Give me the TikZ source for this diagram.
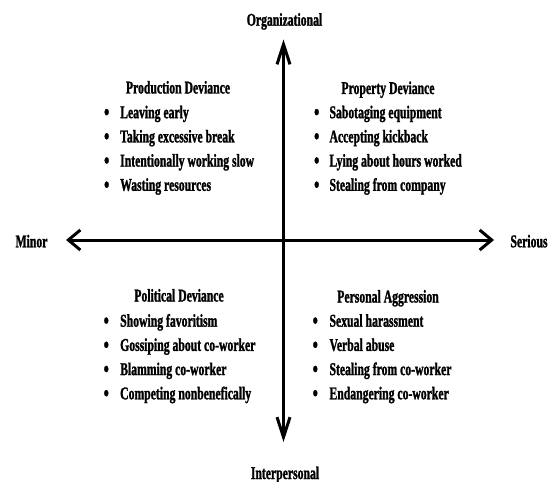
\documentclass[tikz,border=0pt]{standalone}
\usepackage{fontspec}
\setmainfont{Liberation Serif}[FakeStretch=0.65, BoldFeatures={FakeBold=1.3}]
\usetikzlibrary{arrows.meta}
\begin{document}
\begin{tikzpicture}[x=1bp,y=-1bp,
  font=\fontsize{18bp}{20bp}\selectfont\bfseries,
  lbl/.style={inner sep=0pt, anchor=base},
  itemtext/.style={inner sep=0pt, anchor=base west},
  bul/.style={inner sep=0pt, anchor=base, font=\fontsize{23bp}{24bp}\selectfont\bfseries},
  haxis/.style={line width=3bp, {Straight Barb[length=12bp,width=20bp]}-{Straight Barb[length=12bp,width=20bp]}},
  vaxis/.style={line width=3bp, {Straight Barb[length=20bp,width=13bp]}-{Straight Barb[length=20bp,width=13bp]}}]
\useasboundingbox[fill=white] (0,0) rectangle (560,482);
% axes
\coordinate (T) at (283.5,39.5);
\coordinate (B) at (283.5,442);
\coordinate (L) at (66,240);
\coordinate (R) at (494,240);
\draw[haxis] (L) -- (R);
\draw[vaxis] (B) -- (T);
% axis labels
\node[lbl] (org) at (284.5,25.7) {Organizational};
\node[lbl] (inter) at (285,479) {Interpersonal};
\node[lbl] (minor) at (31.5,247.3) {Minor};
\node[lbl] (serious) at (529,247.3) {Serious};
% titles
\node[lbl] (tlh) at (178,93.5) {Production Deviance};
\node[lbl] (trh) at (388,94) {Property Deviance};
\node[lbl] (blh) at (179,301.5) {Political Deviance};
\node[lbl] (brh) at (388,302.5) {Personal Aggression};
% items
\foreach \t [count=\i] in {Leaving early, Taking excessive break, Intentionally working slow, Wasting resources} {
  \node[bul] (tlb\i) at (106.7, 95.5+24.2*\i) {•};
  \node[itemtext] (tl\i) at (120, 94+24.2*\i) {\t};
}
\foreach \t [count=\i] in {Sabotaging equipment, Accepting kickback, Lying about hours worked, Stealing from company} {
  \node[bul] (trb\i) at (316.7, 95.5+24.2*\i) {•};
  \node[itemtext] (tr\i) at (329.3, 94+24.2*\i) {\t};
}
\foreach \t [count=\i] in {Showing favoritism, Gossiping about co-worker, Blamming co-worker, Competing nonbenefically} {
  \node[bul] (blb\i) at (106.3, 304+24.2*\i) {•};
  \node[itemtext] (bl\i) at (120, 302.5+24.2*\i) {\t};
}
\foreach \t [count=\i] in {Sexual harassment, Verbal abuse, Stealing from co-worker, Endangering co-worker} {
  \node[bul] (brb\i) at (315.3, 304+24.2*\i) {•};
  \node[itemtext] (br\i) at (329.3, 302.5+24.2*\i) {\t};
}
\end{tikzpicture}
\end{document}
